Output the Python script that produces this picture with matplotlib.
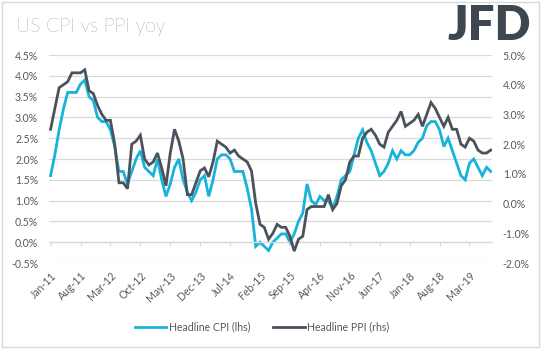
import matplotlib
matplotlib.use("Agg")
import matplotlib.pyplot as plt
from matplotlib.ticker import FuncFormatter, MultipleLocator
from matplotlib.patches import Rectangle
import numpy as np

plt.rcParams['font.family'] = ['Lato', 'DejaVu Sans']

# Monthly data Jan-11 .. Aug-19 (yoy %)
cpi = [1.6, 2.1, 2.7, 3.2, 3.6, 3.6, 3.6, 3.8, 3.9, 3.5, 3.4, 3.0,
       2.9, 2.9, 2.7, 2.3, 1.7, 1.7, 1.4, 1.7, 2.0, 2.2, 1.8, 1.7,
       1.6, 2.0, 1.5, 1.1, 1.4, 1.8, 2.0, 1.5, 1.2, 1.0, 1.2, 1.5,
       1.6, 1.1, 1.5, 2.0, 2.1, 2.1, 2.0, 1.7, 1.7, 1.7, 1.3, 0.8,
       -0.1, 0.0, -0.1, -0.2, 0.0, 0.1, 0.2, 0.2, 0.0, 0.2, 0.5, 0.7,
       1.4, 1.0, 0.9, 1.1, 1.0, 1.0, 0.8, 1.1, 1.5, 1.6, 1.7, 2.1,
       2.5, 2.7, 2.4, 2.2, 1.9, 1.6, 1.7, 1.9, 2.2, 2.0, 2.2, 2.1,
       2.1, 2.2, 2.4, 2.5, 2.8, 2.9, 2.9, 2.7, 2.3, 2.5, 2.2, 1.9,
       1.6, 1.5, 1.9, 2.0, 1.8, 1.6, 1.8, 1.7]
ppi = [2.5, 3.2, 3.9, 4.0, 4.1, 4.4, 4.4, 4.4, 4.5, 3.8, 3.7, 3.3,
       3.0, 2.8, 2.8, 2.0, 0.7, 0.7, 0.5, 2.0, 2.1, 2.3, 1.5, 1.3,
       1.4, 1.7, 1.2, 0.6, 1.7, 2.5, 2.1, 1.5, 0.3, 0.3, 0.7, 1.1,
       1.2, 0.9, 1.4, 2.1, 2.0, 1.9, 1.7, 1.8, 1.6, 1.5, 1.4, 1.1,
       0.0, -0.7, -0.8, -1.2, -1.0, -0.7, -0.8, -0.8, -1.1, -1.6, -1.2, -1.1,
       -0.2, -0.1, -0.1, -0.1, -0.1, 0.3, -0.2, 0.0, 0.6, 0.8, 1.4, 1.6,
       1.6, 2.2, 2.4, 2.5, 2.3, 2.0, 1.9, 2.4, 2.6, 2.8, 3.1, 2.6,
       2.7, 2.8, 3.0, 2.6, 3.0, 3.4, 3.2, 2.9, 2.6, 2.9, 2.5, 2.5,
       2.0, 1.9, 2.2, 2.1, 1.8, 1.7, 1.7, 1.8]
tick_labels = ["Jan-11", "Aug-11", "Mar-12", "Oct-12", "May-13", "Dec-13", "Jul-14",
               "Feb-15", "Sep-15", "Apr-16", "Nov-16", "Jun-17", "Jan-18", "Aug-18", "Mar-19"]
series_names = ["Headline CPI (lhs)", "Headline PPI (rhs)"]
title = "US CPI vs PPI yoy"

CPI_COL = "#16B3DA"
PPI_COL = "#4A525C"
TXT = "#595959"
GRID = "#D9D9D9"

W, H = 543, 351
fig = plt.figure(figsize=(W / 100, H / 100), dpi=100)
fig.patch.set_facecolor("white")

l, r, t, b = 49.3, 491.7, 55, 263
ax = fig.add_axes([l / W, 1 - b / H, (r - l) / W, (b - t) / H])
ax2 = ax.twinx()

x = np.arange(len(cpi))
ax.plot(x, cpi, color=CPI_COL, lw=2.0, solid_joinstyle='miter', label=series_names[0])
ax2.plot(x, ppi, color=PPI_COL, lw=2.0, solid_joinstyle='miter', label=series_names[1])

ax.set_xlim(-0.3, 103.2)
ax.set_ylim(-0.5, 4.5)
ax2.set_ylim(-2.0, 5.0)
ax.yaxis.set_major_locator(MultipleLocator(0.5))
ax2.yaxis.set_major_locator(MultipleLocator(1.0))
fmt = FuncFormatter(lambda v, p: f"{v:.1f}%")
ax.yaxis.set_major_formatter(fmt)
ax2.yaxis.set_major_formatter(fmt)
ax.grid(axis='y', color=GRID, lw=0.9)
ax.set_axisbelow(True)

for s in ['top', 'left', 'right']:
    ax.spines[s].set_visible(False)
for s in ['top', 'left', 'right', 'bottom']:
    ax2.spines[s].set_visible(False)
ax.spines['bottom'].set_position(('data', 0))
ax.spines['bottom'].set_color(GRID)
ax.spines['bottom'].set_linewidth(0.9)

tick_pos = np.arange(len(tick_labels)) * 7
ax.set_xticks(tick_pos)
ax.tick_params(axis='x', direction='out', length=3, width=0.9, color=GRID, labelbottom=False)
ax.tick_params(axis='y', length=0, pad=8, labelsize=7.6, labelcolor=TXT)
ax2.tick_params(axis='y', length=0, pad=8, labelsize=7.6, labelcolor=TXT)

sec = ax.secondary_xaxis('bottom')
sec.set_xticks(tick_pos, labels=tick_labels)
sec.tick_params(length=0, pad=5, labelsize=7.6, labelcolor=TXT)
sec.spines['bottom'].set_visible(False)
for lab in sec.get_xticklabels():
    lab.set_rotation(45)
    lab.set_ha('right')
    lab.set_rotation_mode('anchor')

fig.text(16 / W, 1 - 32 / H, title, fontsize=14, color=TXT, fontweight='light',
         ha='left', va='baseline')
fig.text(489 / W, 1 - 26 / H, "JFD", fontsize=34, color="#3E4650", fontweight='heavy',
         ha='center', va='center')

h1, l1 = ax.get_legend_handles_labels()
h2, l2 = ax2.get_legend_handles_labels()
fig.legend(h1 + h2, l1 + l2, loc='center', bbox_to_anchor=(262 / W, 1 - 327 / H),
           ncol=2, frameon=False, fontsize=7.6, handlelength=3.0, handletextpad=0.2,
           columnspacing=2.2, labelcolor=TXT)

fig.patches.append(Rectangle((1.5 / W, 4 / H), 537 / W, 345 / H, transform=fig.transFigure,
                             fill=False, edgecolor=GRID, lw=1.0))

fig.savefig("out.png", dpi=100)
